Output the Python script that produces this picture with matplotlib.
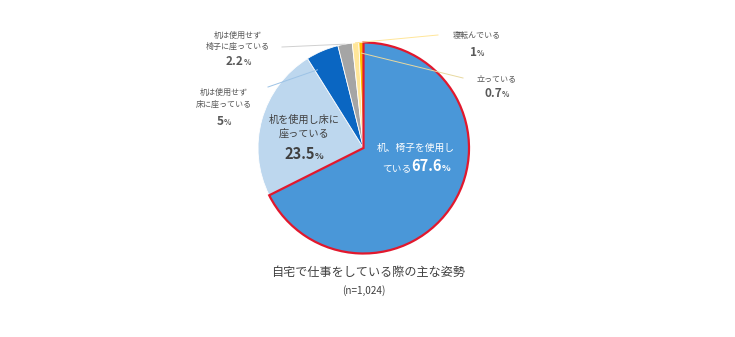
import matplotlib
matplotlib.use("Agg")
import matplotlib.pyplot as plt
import numpy as np

plt.rcParams['font.family'] = ['Noto Sans CJK JP', 'DejaVu Sans']

# ---- data ----
categories = ["机、椅子を使用している", "机を使用し床に座っている", "机は使用せず床に座っている",
              "机は使用せず椅子に座っている", "寝転んでいる", "立っている"]
values = [67.6, 23.5, 5, 2.2, 1, 0.7]
value_labels = ["67.6", "23.5", "5", "2.2", "1", "0.7"]
colors = ["#4A97D8", "#BDD7EE", "#0A66C2", "#A5A5A5", "#FFE699", "#FFC000"]
title = "自宅で仕事をしている際の主な姿勢"
subtitle = "(n=1,024)"

W, H = 735, 337
fig = plt.figure(figsize=(W / 100, H / 100), dpi=100)
fig.patch.set_facecolor("white")

cx, cy, R = 363.5, 148, 105.5  # pixel layout (from top-left)
ax = fig.add_axes([(cx - R) / W, (H - cy - R) / H, 2 * R / W, 2 * R / H])
wedges, _ = ax.pie(values, colors=colors, startangle=90, counterclock=False,
                   radius=1, wedgeprops=dict(edgecolor="white", linewidth=0.6))
wedges[0].set_edgecolor("#E2182D")
wedges[0].set_linewidth(1.6)
wedges[0].set_zorder(5)
ax.set_xlim(-1, 1)
ax.set_ylim(-1, 1)
ax.set_aspect("auto")

# slice boundary angles (clockwise from 12 o'clock)
fr = np.array(values) / sum(values)
ends = 90 - 360 * np.cumsum(fr)
starts = np.concatenate([[90], ends[:-1]])


def fx(x):
    return x / W


def fy(y):
    return 1 - y / H


renderer = fig.canvas.get_renderer()


def rich(parts, xc, yb):
    """parts: list of (text, size, weight, color); centered at pixel xc, baseline yb."""
    texts = []
    for t, s, w, c in parts:
        tx = fig.text(0, fy(yb), t, fontsize=s, fontweight=w, color=c, va="baseline", ha="left")
        texts.append(tx)
    widths = [tx.get_window_extent(renderer).width for tx in texts]
    x = xc - sum(widths) / 2
    for tx, w in zip(texts, widths):
        tx.set_x(fx(x))
        x += w


def point(angle_deg, r):
    a = np.deg2rad(angle_deg)
    return cx + R * r * np.cos(a), cy - R * r * np.sin(a)


def leader(angle_deg, r, x0, y0, color):
    x1, y1 = point(angle_deg, r)
    fig.add_artist(plt.Line2D([fx(x0), fx(x1)], [fy(y0), fy(y1)], color=color,
                              lw=0.7, zorder=10, transform=fig.transFigure))


gray = "#595959"
dark = "#404040"

# outside labels
rich([("机は使用せず", 5.8, "normal", gray)], 238, 38)
rich([("椅子に座っている", 5.8, "normal", gray)], 238, 49)
rich([(value_labels[3], 8.5, "bold", gray), ("%", 5.5, "bold", gray)], 238, 65)
leader((starts[3] + ends[3]) / 2, 1.0, 282, 47, "#D0D0D0")

rich([("机は使用せず", 5.8, "normal", gray)], 224, 95)
rich([("床に座っている", 5.8, "normal", gray)], 224, 107)
rich([(value_labels[2], 8.5, "bold", gray), ("%", 5.5, "bold", gray)], 224, 125)
leader(ends[1] - 1.5, 0.86, 268, 87, "#9DC3E6")

rich([("寝転んでいる", 5.8, "normal", gray)], 477, 38)
rich([(value_labels[4], 8.5, "bold", gray), ("%", 5.5, "bold", gray)], 477, 56)
leader((starts[4] + ends[4]) / 2, 1.0, 438, 35, "#FFE699")

rich([("立っている", 5.8, "normal", gray)], 497, 81)
rich([(value_labels[5], 8.5, "bold", gray), ("%", 5.5, "bold", gray)], 497, 97)
leader((starts[5] + ends[5]) / 2, 0.9, 463, 78, "#E8D9A0")

# inside labels
rich([("机を使用し床に", 7.3, "normal", dark)], 304, 123)
rich([("座っている", 7.3, "normal", dark)], 304, 137)
rich([(value_labels[1], 10.5, "bold", dark), ("%", 6.5, "bold", dark)], 304, 159)

rich([("机、椅子を使用し", 7.0, "normal", "white")], 416, 151)
rich([("ている", 7.0, "normal", "white"), (value_labels[0], 10.5, "bold", "white"),
      ("%", 6.5, "bold", "white")], 416, 171)

# title
rich([(title, 8.7, "normal", "#404040")], 368, 276)
rich([(subtitle, 7.2, "normal", "#404040")], 364, 294)

fig.savefig("out.png", dpi=100, facecolor="white")
